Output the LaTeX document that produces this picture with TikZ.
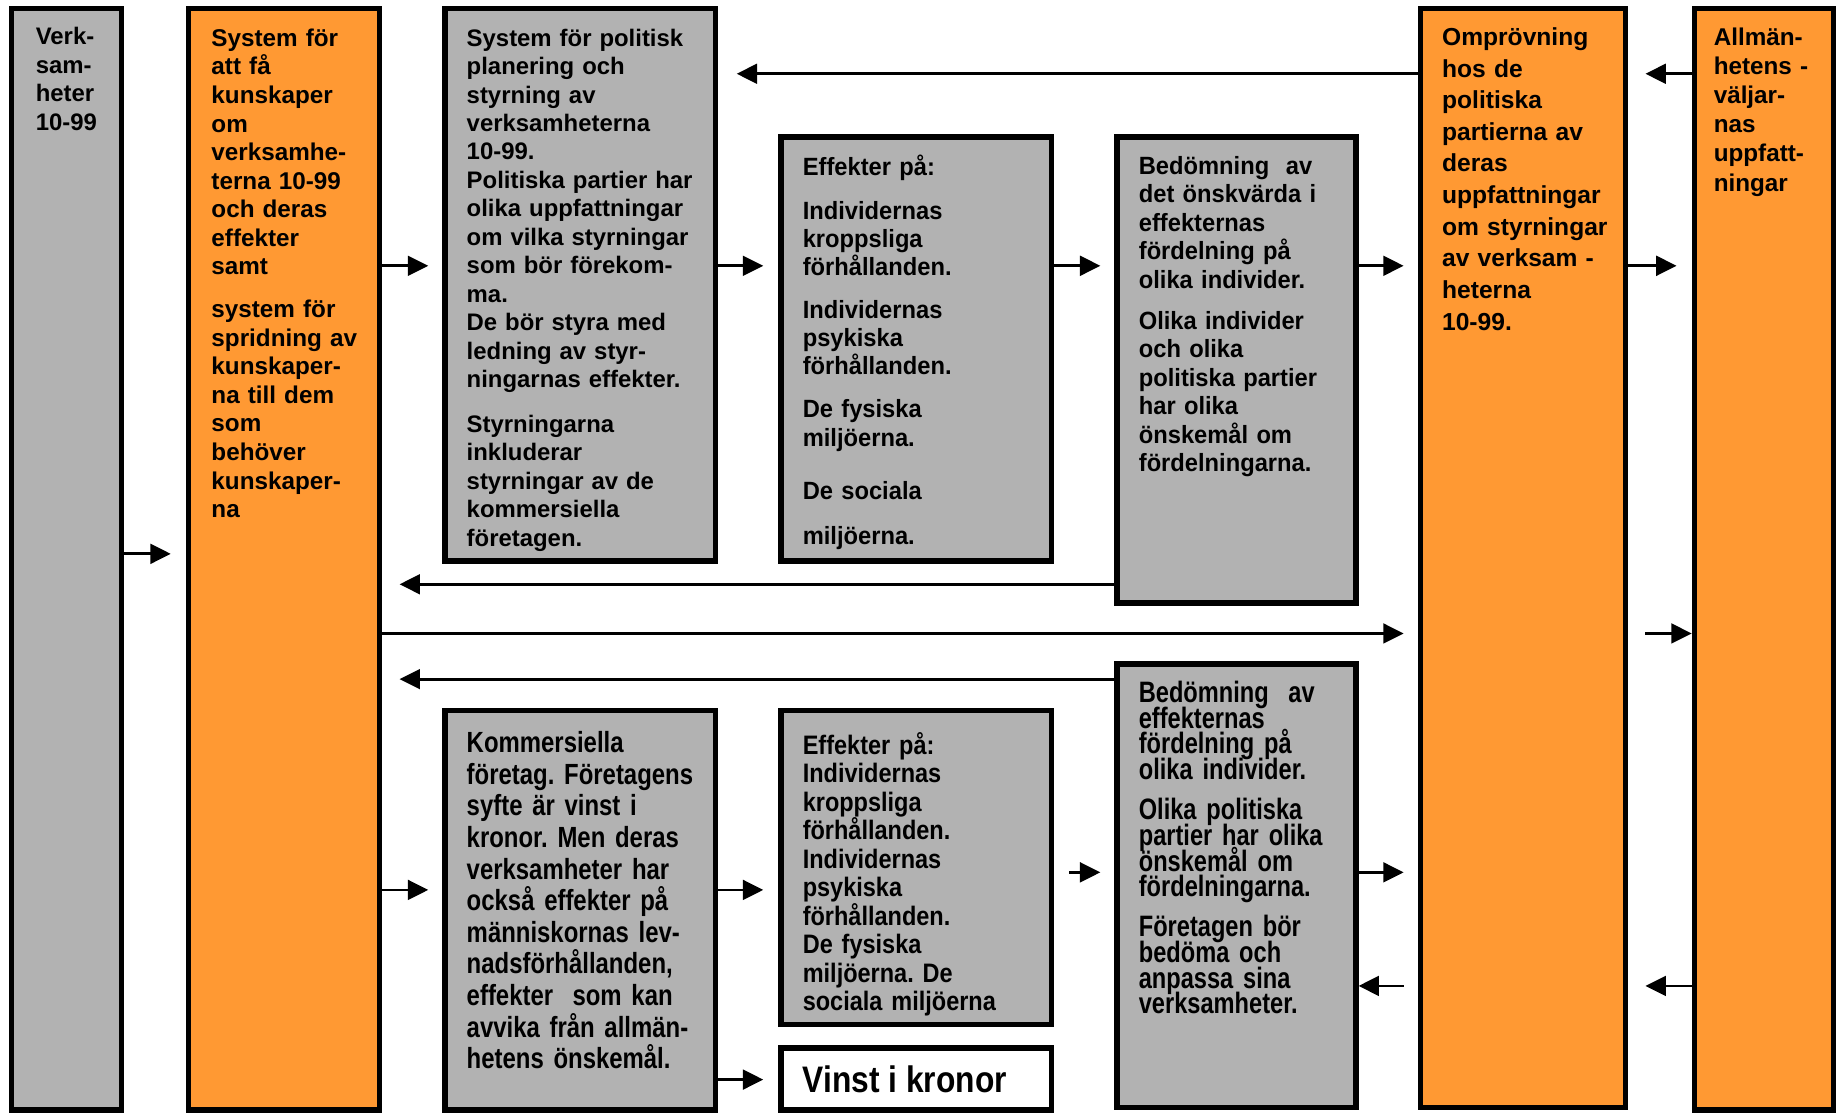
\documentclass[tikz,border=0pt]{standalone}
\usepackage{fontspec}
\setmainfont{Liberation Sans}
\newfontfamily\fEA{Liberation Sans}[FakeStretch=0.95]
\newfontfamily\fKOM{Liberation Sans}[FakeStretch=0.82]
\newfontfamily\fEB{Liberation Sans}[FakeStretch=0.88]
\newfontfamily\fBB{Liberation Sans}[FakeStretch=0.80]
\newfontfamily\fVIN{Liberation Sans}[FakeStretch=0.86]
\usetikzlibrary{arrows.meta,fit}
\definecolor{boxgray}{HTML}{B2B2B2}
\definecolor{boxorange}{HTML}{FF9933}
\frenchspacing
\newcommand\tightlines{\lineskiplimit=-20pt\relax\lineskip=0pt\relax}
\tikzset{
  box/.style={draw=black, line width=1.5pt, inner sep=0pt},
  graybox/.style={box, fill=boxgray},
  orangebox/.style={box, fill=boxorange},
  whitebox/.style={box, fill=white},
  txt/.style={anchor=north west, inner sep=0pt, align=left, text width=4cm},
  fstd/.style={font=\bfseries\fontsize{6.8pt}{8.1pt}\selectfont},
  arr/.style={-{Triangle[length=5.8pt,width=5.6pt]}, line width=0.8pt},
}
\begin{document}
\begin{tikzpicture}[x=0.1171mm, y=-0.1171mm]
\useasboundingbox (0,0) rectangle (1568,951);

% boxes
\node[graybox,   fit={(10,7) (104,948)}]   (verk)  {};
\node[orangebox, fit={(161,7) (324,948)}]  (sys)   {};
\node[graybox,   fit={(380,7) (611,479)}]  (pol)   {};
\node[graybox,   fit={(667,117) (898,479)}] (effA) {};
\node[graybox,   fit={(954,117) (1158,515)}] (bedA) {};
\node[orangebox, fit={(1213,7) (1388,946)}] (omp)  {};
\node[orangebox, fit={(1447,7) (1566,948)}] (allm) {};
\node[graybox,   fit={(380,607) (611,948)}] (kom)  {};
\node[graybox,   fit={(667,607) (898,875)}] (effB) {};
\node[whitebox,  fit={(667,895) (898,948)}] (vinst) {};
\node[graybox,   fit={(954,567) (1158,946)}] (bedB) {};

% texts
\node[txt, fstd] (verk-t) at (30,23) {Verk-\\sam-\\heter\\10-99};
\node[txt, font=\bfseries\fontsize{6.9pt}{8.13pt}\selectfont] (sys-t) at (180,24)
  {System för\\att få\\kunskaper\\om\\verksamhe-\\terna 10-99\\och deras\\effekter\\samt\\[4pt]system för\\spridning av\\kunskaper-\\na till dem\\som\\behöver\\kunskaper-\\na};
\node[txt, fstd] (pol-t) at (398,24)
  {System för politisk\\planering och\\styrning av\\verksamheterna\\10-99.\\Politiska partier har\\olika uppfattningar\\om vilka styrningar\\som bör förekom-\\ma.\\De bör styra med\\ledning av styr-\\ningarnas effekter.\\[4.6pt]Styrningarna\\inkluderar\\styrningar av de\\kommersiella\\företagen.};
\node[txt, font=\fEA\bfseries\fontsize{7.1pt}{8pt}\selectfont] (effA-t) at (685,132)
  {Effekter på:\\[4.3pt]Individernas\\kroppsliga\\förhållanden.\\[4.3pt]Individernas\\psykiska\\förhållanden.\\[4.3pt]De fysiska\\miljöerna.\\[7.3pt]De sociala\\[4.7pt]miljöerna.};
\node[txt, font=\fEA\bfseries\fontsize{7.1pt}{8.1pt}\selectfont] (bedA-t) at (972,133)
  {Bedömning\ \ av\\det önskvärda i\\effekternas\\fördelning på\\olika individer.\\[3.5pt]Olika individer\\och olika\\politiska partier\\har olika\\önskemål om\\fördelningarna.};
\node[txt, font=\bfseries\fontsize{7pt}{9pt}\selectfont] (omp-t) at (1231,23)
  {Omprövning\\hos de\\politiska\\partierna av\\deras\\uppfattningar\\om styrningar\\av verksam -\\heterna\\10-99.};
\node[txt, font=\bfseries\fontsize{6.9pt}{8.3pt}\selectfont] (allm-t) at (1463,23)
  {Allmän-\\hetens -\\väljar-\\nas\\uppfatt-\\ningar};
\node[txt, font=\fKOM\bfseries\fontsize{8.3pt}{9pt}\selectfont] (kom-t) at (398,624)
  {Kommersiella\\företag. Företagens\\syfte är vinst i\\kronor. Men deras\\verksamheter har\\också effekter på\\människornas lev-\\nadsförhållanden,\\effekter\ \ som kan\\avvika från allmän-\\hetens önskemål.};
\node[txt, font=\fEB\bfseries\fontsize{7.6pt}{8.1pt}\selectfont] (effB-t) at (685,625)
  {Effekter på:\\Individernas\\kroppsliga\\förhållanden.\\Individernas\\psykiska\\förhållanden.\\De fysiska\\miljöerna. De\\sociala miljöerna};
\node[txt, font=\fBB\bfseries\fontsize{8.4pt}{7.33pt}\selectfont\tightlines] (bedB-t) at (972,581)
  {Bedömning\ \ av\\effekternas\\fördelning på\\olika individer.\\[4pt]Olika politiska\\partier har olika\\önskemål om\\fördelningarna.\\[4pt]Företagen bör\\bedöma och\\anpassa sina\\verksamheter.};
\node[anchor=west, inner sep=0pt, font=\fVIN\bfseries\fontsize{10.5pt}{12pt}\selectfont] (vinst-t) at (685,922) {Vinst i kronor};

% connectors
\draw[arr, shorten >=4.3pt] (verk.east |- 0,473) -- (sys.west |- 0,473);
\draw[arr, shorten >=4pt]   (sys.east |- 0,227) -- (pol.west |- 0,227);
\draw[arr, shorten >=4.3pt] (pol.east |- 0,227) -- (effA.west |- 0,227);
\draw[arr, shorten >=4pt]   (effA.east |- 0,227) -- (bedA.west |- 0,227);
\draw[arr, shorten >=4pt]   (bedA.east |- 0,227) -- (omp.west |- 0,227);
\draw[arr, shorten >=4.3pt] (omp.east |- 0,227) -- (allm.west |- 0,227);
\draw[arr, shorten >=5.3pt] (omp.west |- 0,63) -- (pol.east |- 0,63);
\draw[arr, shorten >=5pt]   (allm.west |- 0,63) -- (omp.east |- 0,63);
\draw[arr, shorten >=5pt]   (bedA.west |- 0,499) -- (sys.east |- 0,499);
\draw[arr, shorten >=4pt]   (sys.east |- 0,541) -- (omp.west |- 0,541);
\draw[arr, shorten <=5pt]   (omp.east |- 0,541) -- (allm.west |- 0,541);
\draw[arr, shorten >=5pt]   (bedB.west |- 0,580) -- (sys.east |- 0,580);
\draw[arr, shorten >=4pt]   (sys.east |- 0,760) -- (kom.west |- 0,760);
\draw[arr, shorten >=4.3pt] (kom.east |- 0,760) -- (effB.west |- 0,760);
\draw[arr, shorten >=4.3pt] (kom.east |- 0,922) -- (vinst.west |- 0,922);
\draw[arr, shorten <=4.3pt, shorten >=4pt] (effB.east |- 0,745) -- (bedB.west |- 0,745);
\draw[arr, shorten >=4pt]   (bedB.east |- 0,745) -- (omp.west |- 0,745);
\draw[arr, shorten <=4pt]   (omp.west |- 0,842) -- (bedB.east |- 0,842);
\draw[arr, shorten >=5pt]   (allm.west |- 0,842) -- (omp.east |- 0,842);
\end{tikzpicture}
\end{document}
